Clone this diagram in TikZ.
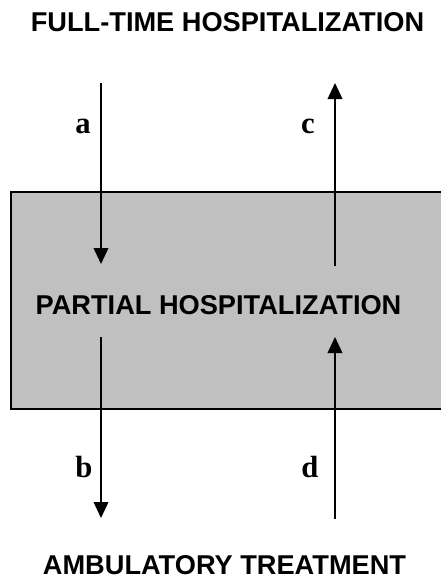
\documentclass[tikz,border=0pt]{standalone}
\usepackage{fontspec}
\setmainfont{Liberation Serif}
\newfontfamily\headfont{Liberation Sans}
\usetikzlibrary{arrows.meta,positioning}

\begin{document}
\begin{tikzpicture}[
  x=0.75pt, y=-0.75pt,
  level/.style={font=\headfont\bfseries\fontsize{20.4}{24}\selectfont,inner sep=0pt},
  flowlbl/.style={font=\bfseries\fontsize{23}{26}\selectfont,inner sep=0pt,anchor=base},
  arr/.style={-{Triangle[length=12pt,width=11pt]},line width=1.2pt},
]
\useasboundingbox (0,0) rectangle (440,579);

% partial hospitalization box (runs off the right edge)
\draw[line width=1.5pt,fill={rgb,255:red,192;green,192;blue,192}]
  (11,192) rectangle (450,409);
\node[level] (part) at (218.5,305) {PARTIAL HOSPITALIZATION};
\node[level] (full) at (227.5,22) {FULL-TIME HOSPITALIZATION};
\node[level] (amb) at (224.5,565) {AMBULATORY TREATMENT};

% arrow ends
\coordinate (aS) at (101,83);  \coordinate (aE) at (101,264);
\coordinate (cS) at (335,266); \coordinate (cE) at (335,83);
\coordinate (bS) at (101,337); \coordinate (bE) at (101,518);
\coordinate (dS) at (335,519); \coordinate (dE) at (335,337);

\draw[arr] (aS) -- (aE); \draw[arr] (cS) -- (cE);
\draw[arr] (bS) -- (bE); \draw[arr] (dS) -- (dE);

\node[flowlbl] (la) at (83,133) {a};
\node[flowlbl] (lc) at (308,133) {c};
\node[flowlbl] (lb) at (84,477) {b};
\node[flowlbl] (ld) at (310,477) {d};
\end{tikzpicture}
\end{document}
